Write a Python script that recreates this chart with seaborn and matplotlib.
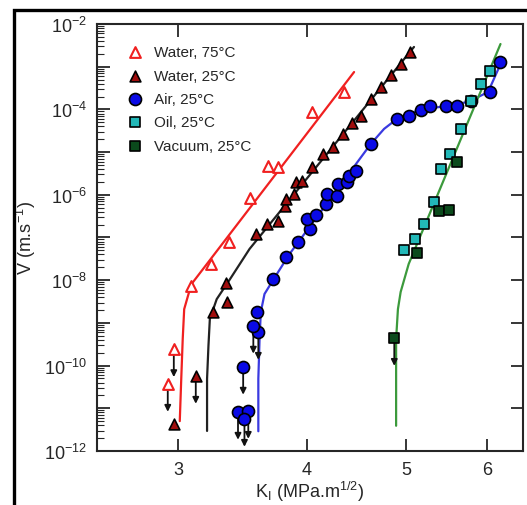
import numpy as np
import pandas as pd
import matplotlib
matplotlib.use("Agg")
import matplotlib.pyplot as plt
import seaborn as sns
from matplotlib.ticker import FixedLocator, FuncFormatter, NullFormatter, LogLocator
from matplotlib.patches import Rectangle

# ---- data ----
w75_K = [2.93, 2.97, 3.09, 3.23, 3.36, 3.52, 3.67, 3.75, 4.05, 4.35]
w75_V = [3.7e-11, 2.4e-10, 7.3e-9, 2.4e-8, 7.9e-8, 8.4e-7, 4.7e-6, 4.5e-6, 8.7e-5, 2.55e-4]
w75_lim = [1, 1, 0, 0, 0, 0, 0, 0, 0, 0]

w25_K = [2.97, 3.12, 3.24, 3.35, 3.34, 3.57, 3.66, 3.75, 3.81, 3.82, 3.89, 3.91, 3.96,
         4.05, 4.15, 4.24, 4.34, 4.43, 4.52, 4.62, 4.73, 4.83, 4.94, 5.04]
w25_V = [4.3e-12, 5.7e-11, 1.8e-9, 3.1e-9, 8.6e-9, 1.2e-7, 2.1e-7, 2.4e-7, 5.5e-7, 8.0e-7,
         1.04e-6, 2.0e-6, 2.1e-6, 4.5e-6, 9.0e-6, 1.3e-5, 2.65e-5, 4.8e-5, 7.0e-5, 1.75e-4,
         3.35e-4, 6.4e-4, 1.16e-3, 2.2e-3]
w25_lim = [1, 1] + [0] * 22

air_K = [3.43, 3.51, 3.48, 3.47, 3.59, 3.55, 3.58, 3.71, 3.82, 3.92, 4.03, 4.00, 4.09,
         4.18, 4.19, 4.28, 4.29, 4.38, 4.40, 4.47, 4.62, 4.90, 5.03, 5.17, 5.28, 5.47,
         5.60, 5.78, 6.04, 6.18]
air_V = [8.2e-12, 8.6e-12, 5.6e-12, 9.3e-11, 6.1e-10, 8.5e-10, 1.8e-9, 1.07e-8, 3.5e-8,
         7.9e-8, 1.6e-7, 2.7e-7, 3.4e-7, 6.1e-7, 1.04e-6, 9.4e-7, 1.8e-6, 2.0e-6, 2.75e-6,
         3.6e-6, 1.55e-5, 6.0e-5, 7.0e-5, 9.7e-5, 1.2e-4, 1.2e-4, 1.2e-4, 1.6e-4, 2.55e-4,
         1.3e-3]
air_lim = [1, 1, 1, 1, 1, 1] + [0] * 24

oil_K = [4.98, 5.10, 5.20, 5.32, 5.41, 5.52, 5.66, 5.79, 5.92, 6.04]
oil_V = [5.1e-8, 9.2e-8, 2.1e-7, 6.8e-7, 4.0e-6, 9.0e-6, 3.5e-5, 1.6e-4, 3.9e-4, 7.9e-4]

vac_K = [4.87, 5.12, 5.38, 5.50, 5.60]
vac_V = [4.4e-10, 4.3e-8, 4.2e-7, 4.4e-7, 5.9e-6]
vac_lim = [1, 0, 0, 0, 0]

# fitted curves
red_K = [3.01, 3.02, 3.03, 3.04, 3.07, 3.09, 4.45]
red_V = [5e-12, 4.9e-11, 4.2e-10, 2.1e-9, 4.8e-9, 8.1e-9, 7.5e-4]
blk_K = [3.20, 3.20, 3.21, 3.22, 3.27, 3.37, 3.52, 5.09]
blk_V = [2.95e-12, 4.9e-11, 2.9e-10, 1.23e-9, 3.6e-9, 1.07e-8, 5.4e-8, 2.9e-3]
blu_K = [3.59, 3.59, 3.60, 3.61, 3.64, 3.71, 3.85, 4.62, 4.76, 4.90, 5.15, 5.47, 5.75, 6.01, 6.18]
blu_V = [2.9e-12, 4.9e-11, 4.2e-10, 1.8e-9, 4.75e-9, 1.0e-8, 4.1e-8, 1.55e-5, 3.5e-5,
         6.0e-5, 9.7e-5, 1.2e-4, 1.5e-4, 2.55e-4, 1.15e-3]
grn_K = [4.89, 4.89, 4.89, 4.91, 4.94, 5.03, 6.18]
grn_V = [3.9e-12, 4.9e-11, 4.2e-10, 2.1e-9, 5.3e-9, 2.4e-8, 3.4e-3]

x_ticks = [3, 4, 5, 6]

sns.set_style("ticks")
plt.rcParams["font.family"] = ["Liberation Sans", "DejaVu Sans"]
plt.rcParams["axes.linewidth"] = 1.5

fig = plt.figure(figsize=(5.27, 5.06), dpi=100)
ax = fig.add_axes([97 / 527, 54 / 506, 426 / 527, 427 / 506])
ax.set_xscale("log")
ax.set_yscale("log")

for K, V, c in [(red_K, red_V, "#f02020"), (blk_K, blk_V, "#222222"),
                (blu_K, blu_V, "#3a3ae0"), (grn_K, grn_V, "#3c9a3c")]:
    sns.lineplot(x=K, y=V, ax=ax, color=c, lw=1.6, sort=False, estimator=None)


def arrows(K, V, lim):
    for k, v, f in zip(K, V, lim):
        if f:
            ax.annotate("", xy=(k, v * 10 ** -0.65), xytext=(k, v * 10 ** -0.1),
                        arrowprops=dict(arrowstyle="-|>", color="#111111", lw=1.3,
                                        mutation_scale=9, shrinkA=0, shrinkB=0))


arrows(w75_K, w75_V, w75_lim)
arrows(w25_K, w25_V, w25_lim)
arrows(air_K, air_V, air_lim)
arrows(vac_K, vac_V, vac_lim)

sns.scatterplot(x=w75_K, y=w75_V, ax=ax, marker="^", s=60, color="white",
                edgecolor="#f02020", linewidth=1.5, label="Water, 75°C", zorder=3)
sns.scatterplot(x=w25_K, y=w25_V, ax=ax, marker="^", s=60, color="#a00d0d",
                edgecolor="black", linewidth=1.2, label="Water, 25°C", zorder=3)
sns.scatterplot(x=air_K, y=air_V, ax=ax, marker="o", s=75, color="#0a0ae6",
                edgecolor="black", linewidth=1.2, label="Air, 25°C", zorder=3)
sns.scatterplot(x=oil_K, y=oil_V, ax=ax, marker="s", s=60, color="#22b8b8",
                edgecolor="black", linewidth=1.2, label="Oil, 25°C", zorder=3)
sns.scatterplot(x=vac_K, y=vac_V, ax=ax, marker="s", s=60, color="#0b4a1c",
                edgecolor="black", linewidth=1.2, label="Vacuum, 25°C", zorder=3)

ax.set_xlim(2.5, 6.5)
ax.set_ylim(1e-12, 1e-2)

ax.xaxis.set_major_locator(FixedLocator(x_ticks))
ax.xaxis.set_major_formatter(FuncFormatter(lambda v, p: f"{v:g}"))
ax.xaxis.set_minor_formatter(NullFormatter())
ax.yaxis.set_major_locator(FixedLocator([10.0 ** e for e in range(-12, -1)]))
ax.yaxis.set_minor_locator(LogLocator(base=10, subs=np.arange(2, 10), numticks=30))


def ylab(v, p):
    e = int(round(np.log10(v)))
    return r"$\mathregular{10^{%d}}$" % e if e % 2 == 0 else ""


ax.yaxis.set_major_formatter(FuncFormatter(ylab))
ax.tick_params(which="both", direction="in", top=True, right=True, labelsize=13)
ax.tick_params(which="major", length=9, width=1.3, pad=7)
ax.tick_params(which="minor", length=5, width=0.8, right=False, top=False, bottom=False)

ax.set_xlabel(r"K$_\mathregular{I}$ (MPa.m$^\mathregular{1/2}$)", fontsize=13)
ax.set_ylabel(r"V (m.s$^\mathregular{-1}$)", fontsize=13)
ax.xaxis.set_label_coords(0.5, -0.066)
ax.yaxis.set_label_coords(-0.138, 0.5)

leg = ax.legend(loc="upper left", bbox_to_anchor=(0.04, 0.965), frameon=False,
                fontsize=11, handletextpad=0.2, labelspacing=0.62, borderaxespad=0)

top = 1 - 11 / 506
fig.add_artist(Rectangle((14 / 527, -0.2), 1.2, top + 0.2,
                         transform=fig.transFigure, fill=False, lw=2.4, ec="black"))

fig.savefig("out.png", dpi=100)
